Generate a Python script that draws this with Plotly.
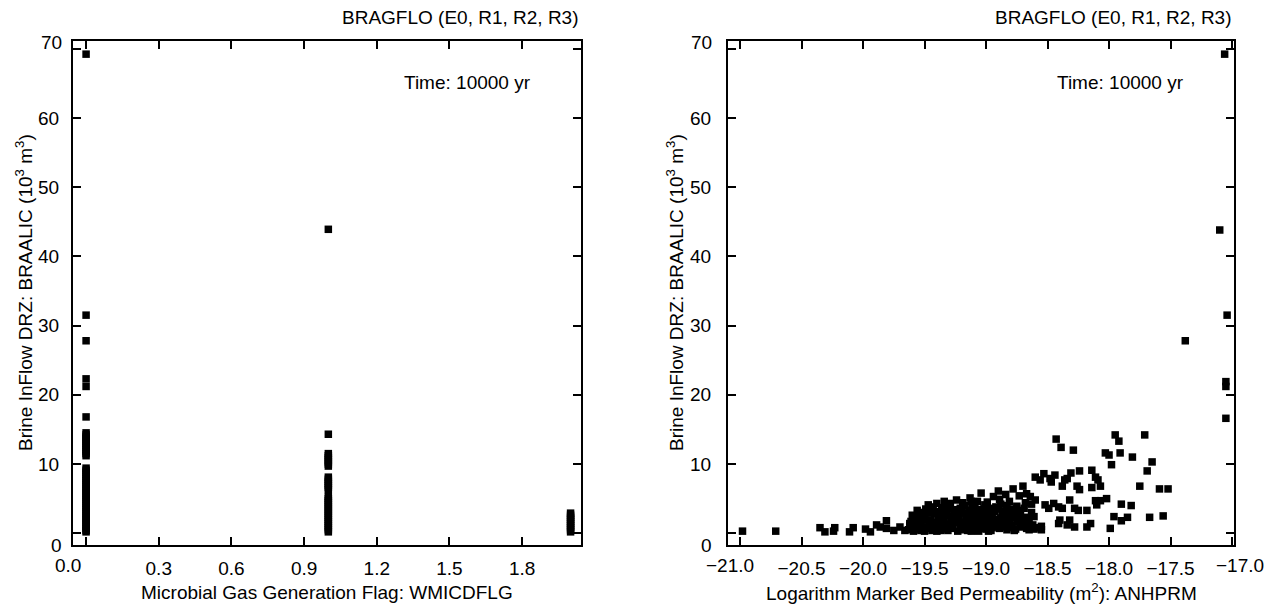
import plotly.graph_objects as go

# ---------------- data ----------------
# Left panel: WMICDFLG flag vs brine inflow (10^3 m^3)
flag0_y = [69.2, 31.5, 27.8, 22.3, 21.2, 16.8,
           14.5, 14.2, 13.9, 13.6, 13.3, 13.0, 12.7, 12.4, 12.1, 11.8, 11.5, 11.2,
           9.4, 9.1, 8.8, 8.5, 8.2, 7.9, 7.6, 7.3, 7.0, 6.7, 6.4, 6.1, 5.8, 5.5,
           5.2, 4.9, 4.6, 4.3, 4.0, 3.7, 3.4, 3.1, 2.8, 2.5, 2.2, 1.9, 1.6, 1.3,
           1.0, 0.7, 0.4, 0.2]
flag1_y = [43.9, 14.3, 11.5, 11.2, 10.9, 10.6, 10.3, 10.0, 9.7,
           8.1, 7.8, 7.5, 7.2, 6.9, 6.6, 6.3,
           5.3, 5.0, 4.7, 4.4, 4.1, 3.8, 3.5, 3.2, 2.9, 2.6, 2.3, 2.0, 1.7,
           1.4, 1.1, 0.8, 0.5, 0.2]
flag2_y = [2.9, 2.6, 2.3, 2.0, 1.7, 1.4, 1.1, 0.8, 0.5, 0.2]

# Right panel: (log anhydrite permeability, brine inflow) pairs
anhprm_sparse_low = [
    (-20.98, 0.3), (-20.71, 0.3), (-20.35, 0.8), (-20.31, 0.2), (-20.24, 0.3),
    (-20.23, 0.8), (-20.11, 0.2), (-20.08, 0.8), (-19.98, 0.6), (-19.94, 0.2),
    (-19.89, 1.2), (-19.86, 0.9), (-19.81, 1.8), (-19.81, 0.7), (-19.75, 0.4),
    (-19.70, 0.9), (-19.66, 0.4), (-19.62, 1.4), (-19.58, 0.9)]
anhprm_dense = [
    (-19.63, 0.5), (-19.61, 1.7), (-19.59, 0.3), (-19.57, 2.3), (-19.56, 1.0),
    (-19.54, 0.6), (-19.53, 1.5), (-19.52, 3.0), (-19.51, 2.6), (-19.50, 0.3),
    (-19.49, 1.9), (-19.48, 0.9), (-19.47, 4.1), (-19.46, 1.3), (-19.44, 3.2),
    (-19.43, 0.5), (-19.42, 2.8), (-19.41, 1.6), (-19.40, 0.3), (-19.39, 3.1),
    (-19.38, 1.0), (-19.37, 2.2), (-19.36, 3.7), (-19.35, 0.6), (-19.34, 1.8),
    (-19.33, 3.3), (-19.32, 2.6), (-19.31, 0.4), (-19.30, 1.3), (-19.29, 4.3),
    (-19.28, 2.0), (-19.27, 0.8), (-19.26, 3.0), (-19.25, 1.6), (-19.24, 4.8),
    (-19.23, 0.3), (-19.22, 2.5), (-19.21, 3.6), (-19.20, 1.1), (-19.19, 0.6),
    (-19.18, 2.9), (-19.17, 4.0), (-19.16, 1.9), (-19.15, 0.4), (-19.14, 3.3),
    (-19.13, 5.1), (-19.12, 1.4), (-19.11, 2.4), (-19.10, 0.8), (-19.09, 3.9),
    (-19.08, 1.7), (-19.07, 4.6), (-19.06, 0.3), (-19.05, 2.8), (-19.04, 5.8),
    (-19.03, 1.2), (-19.02, 3.5), (-19.01, 2.1), (-19.00, 0.6), (-18.99, 4.5),
    (-18.98, 1.6), (-18.97, 3.0), (-18.96, 0.4), (-18.95, 2.4), (-18.94, 5.3),
    (-18.93, 1.0), (-18.92, 3.8), (-18.91, 2.0), (-18.90, 6.1), (-18.89, 0.7),
    (-18.88, 4.2), (-18.87, 1.4), (-18.86, 3.2), (-18.85, 2.6), (-18.84, 5.6),
    (-18.83, 0.5), (-18.82, 1.9), (-18.81, 4.6), (-18.80, 3.4), (-18.79, 1.1),
    (-18.78, 6.4), (-18.77, 2.3), (-18.76, 0.6), (-18.75, 3.9), (-18.74, 1.6),
    (-18.73, 5.4), (-18.72, 2.8), (-18.71, 0.9), (-18.70, 6.8), (-18.69, 1.3),
    (-18.68, 4.4), (-18.67, 5.7), (-18.66, 2.0), (-18.65, 0.5), (-18.64, 5.3),
    (-18.63, 3.0), (-18.62, 1.2), (-18.61, 2.4), (-18.60, 0.8),
    (-19.62, 1.1), (-19.58, 1.4), (-19.55, 2.0), (-19.52, 0.9), (-19.50, 2.4),
    (-19.47, 0.7), (-19.45, 1.9), (-19.43, 3.8), (-19.41, 0.9), (-19.39, 2.1),
    (-19.37, 0.4), (-19.35, 2.9), (-19.33, 1.1), (-19.31, 3.9), (-19.29, 0.7),
    (-19.27, 2.5), (-19.25, 3.4), (-19.23, 1.5), (-19.21, 0.5), (-19.19, 4.4),
    (-19.17, 1.2), (-19.15, 2.6), (-19.13, 0.9), (-19.11, 3.6), (-19.09, 0.5),
    (-19.07, 2.2), (-19.05, 3.4), (-19.03, 0.7), (-19.01, 4.1), (-18.99, 1.1),
    (-18.97, 2.2), (-18.95, 0.8), (-18.93, 3.1), (-18.91, 1.3), (-18.89, 4.9),
    (-18.87, 2.6), (-18.85, 0.9), (-18.83, 4.0), (-18.81, 1.5), (-18.79, 2.7),
    (-18.77, 0.4), (-18.75, 1.8), (-18.73, 3.3), (-18.71, 1.8), (-18.69, 3.6),
    (-18.67, 0.7), (-18.65, 1.6), (-18.63, 4.2), (-18.61, 0.6),
    (-19.53, 0.4), (-19.44, 0.4), (-19.36, 1.4), (-19.28, 1.2), (-19.22, 1.9),
    (-19.16, 2.7), (-19.12, 0.3), (-19.08, 2.6), (-19.04, 1.5), (-18.98, 0.3),
    (-18.94, 1.8), (-18.90, 3.5), (-18.86, 1.8), (-18.82, 2.9), (-18.78, 3.5),
    (-19.60, 2.6), (-19.56, 3.3), (-19.54, 1.2), (-19.49, 3.5), (-19.46, 2.9),
    (-19.42, 1.3), (-19.40, 4.3), (-19.38, 2.6), (-19.34, 4.6), (-19.32, 0.9),
    (-19.30, 3.5), (-19.26, 1.9), (-19.24, 2.9), (-19.20, 3.2), (-19.18, 1.6),
    (-19.14, 1.9), (-19.12, 4.6), (-19.10, 2.9), (-19.06, 1.1), (-19.02, 2.5),
    (-19.00, 3.3), (-18.96, 3.6), (-18.92, 1.5), (-18.88, 2.2), (-18.84, 2.4),
    (-18.80, 0.8), (-18.76, 2.9), (-18.72, 1.1), (-18.68, 2.3), (-18.64, 1.1)]
anhprm_sparse_high = [
    (-18.60, 4.8), (-18.55, 0.5), (-18.55, 1.0), (-18.52, 4.1), (-18.53, 8.6),
    (-18.56, 7.7), (-18.60, 8.1), (-18.49, 3.6), (-18.48, 7.9), (-18.44, 8.4),
    (-18.47, 7.4), (-18.45, 4.3), (-18.41, 3.8), (-18.38, 3.6), (-18.43, 13.6),
    (-18.39, 12.4), (-18.29, 12.0), (-18.34, 7.9), (-18.36, 7.7), (-18.38, 6.8),
    (-18.26, 6.8), (-18.24, 6.3), (-18.24, 9.0), (-18.31, 8.7), (-18.32, 4.8),
    (-18.28, 3.6), (-18.25, 3.3), (-18.18, 3.3), (-18.15, 1.4), (-18.18, 0.9),
    (-18.28, 0.9), (-18.32, 1.9), (-18.34, 1.2), (-18.40, 1.9), (-18.41, 1.4),
    (-18.14, 6.6), (-18.11, 8.1), (-18.09, 7.7), (-18.07, 6.8), (-18.14, 9.1),
    (-18.11, 4.7), (-17.95, 14.2), (-17.92, 13.3), (-17.71, 14.2), (-18.03, 11.6),
    (-18.00, 11.3), (-17.91, 11.6), (-17.81, 11.0), (-17.98, 9.9), (-17.65, 10.3),
    (-17.69, 9.0), (-17.75, 6.8), (-17.59, 6.4), (-17.52, 6.4), (-17.67, 2.3),
    (-17.56, 2.5), (-17.90, 4.2), (-17.82, 4.0), (-17.96, 2.4), (-17.90, 1.8),
    (-17.85, 2.3), (-17.99, 0.7), (-18.02, 5.0), (-18.07, 4.7), (-18.10, 4.1),
    (-17.38, 27.8), (-17.06, 69.2), (-17.10, 43.8), (-17.04, 31.5), (-17.05, 21.9),
    (-17.05, 21.2), (-17.05, 16.6)]

anhprm_points = anhprm_sparse_low + anhprm_dense + anhprm_sparse_high
anhprm_x = [p[0] for p in anhprm_points]
anhprm_y = [p[1] for p in anhprm_points]

x_ticks_left = [0.0, 0.3, 0.6, 0.9, 1.2, 1.5, 1.8]
x_ticks_right = [-21.0, -20.5, -20.0, -19.5, -19.0, -18.5, -18.0, -17.5, -17.0]
y_ticks = [0, 10, 20, 30, 40, 50, 60, 70]

FONT = "Liberation Sans, Arial, Helvetica, sans-serif"
FS = 19
W, H = 1269, 605

# ---------------- figure ----------------
fig = go.Figure()
mk = dict(symbol="square", size=7.5, color="black", line=dict(width=0))
fig.add_trace(go.Scatter(x=[0] * len(flag0_y), y=flag0_y, mode="markers", marker=mk,
                         xaxis="x", yaxis="y", showlegend=False))
fig.add_trace(go.Scatter(x=[1] * len(flag1_y), y=flag1_y, mode="markers", marker=mk,
                         xaxis="x", yaxis="y", showlegend=False))
fig.add_trace(go.Scatter(x=[2] * len(flag2_y), y=flag2_y, mode="markers", marker=mk,
                         xaxis="x", yaxis="y", showlegend=False))
fig.add_trace(go.Scatter(x=anhprm_x, y=anhprm_y, mode="markers", marker=mk,
                         xaxis="x2", yaxis="y2", showlegend=False))

axis_common = dict(showline=True, linewidth=2, linecolor="black", mirror="ticks",
                   ticks="inside", ticklen=8, tickwidth=1.5, tickcolor="black",
                   showgrid=False, zeroline=False,
                   tickfont=dict(family=FONT, size=FS, color="black"))


def end_ticks(vals):
    # unlabeled tick marks at the axis ends (labels sit at the frame corners)
    return dict(tickvals=vals, ticks="inside", ticklen=8, tickwidth=1.5,
                tickcolor="black", showgrid=False)


y_dom = [60 / H, 564 / H]
fig.update_layout(
    width=W, height=H,
    margin=dict(l=0, r=0, t=0, b=0, autoexpand=False),
    paper_bgcolor="white", plot_bgcolor="white",
    font=dict(family=FONT, size=FS, color="black"),
    xaxis=dict(domain=[73 / W, 581 / W], range=[-0.054, 2.043],
               tickvals=x_ticks_left[1:], ticktext=[f"{v:.1f}" for v in x_ticks_left[1:]],
               minor=end_ticks(x_ticks_left[:1]),
               anchor="y", ticklabelstandoff=5, **axis_common),
    yaxis=dict(domain=y_dom, range=[-1.7, 71.1], tickvals=y_ticks[1:-1],
               minor=end_ticks([y_ticks[0], y_ticks[-1]]),
               anchor="x", ticklabelstandoff=8, **axis_common),
    xaxis2=dict(domain=[728 / W, 1234 / W], range=[-21.098, -16.984],
                tickvals=x_ticks_right[1:-1], tickformat=".1f",
                minor=end_ticks([x_ticks_right[0], x_ticks_right[-1]]),
                anchor="y2", ticklabelstandoff=5, **axis_common),
    yaxis2=dict(domain=y_dom, range=[-1.7, 71.1], tickvals=y_ticks[1:-1],
                minor=end_ticks([y_ticks[0], y_ticks[-1]]),
                anchor="x2", ticklabelstandoff=11, **axis_common),
)


def txt(text, x, y, xanchor="center", angle=0):
    return dict(text=text, xref="paper", yref="paper", x=x / W, y=(H - y) / H,
                xanchor=xanchor, yanchor="middle", textangle=angle, showarrow=False,
                font=dict(family=FONT, size=FS, color="black"))


ann = []
for xl, xr, ytx, ylab_right, xtitle in [
    (73, 581, 24, 64, "Microbial Gas Generation Flag: WMICDFLG"),
    (728, 1234, 675, 714,
     "Logarithm Marker Bed Permeability (m<sup>2</sup>): ANHPRM"),
]:
    ann.append(txt("BRAGFLO (E0, R1, R2, R3)", xr, 18, "right"))
    ann.append(txt("Time: 10000 yr", xr - 48, 83, "right"))
    ann.append(txt(xtitle, (xl + xr) / 2, 592))
    ann.append(txt("Brine InFlow DRZ: BRAALIC (10<sup>3</sup> m<sup>3</sup>)",
                   ytx, 293, angle=-90))
    ann.append(txt(str(y_ticks[-1]), ylab_right, 42, "right"))
    ann.append(txt(str(y_ticks[0]), ylab_right, 545, "right"))
ann.append(txt(f"{x_ticks_left[0]:.1f}", 68, 565))
ann.append(txt(f"{x_ticks_right[0]:.1f}".replace("-", "\u2212"), 730, 565))
ann.append(txt(f"{x_ticks_right[-1]:.1f}".replace("-", "\u2212"), 1240, 565))
fig.update_layout(annotations=ann)

fig.write_html("out.html", config={"displayModeBar": False},
               post_script="document.body.style.margin='0';")
